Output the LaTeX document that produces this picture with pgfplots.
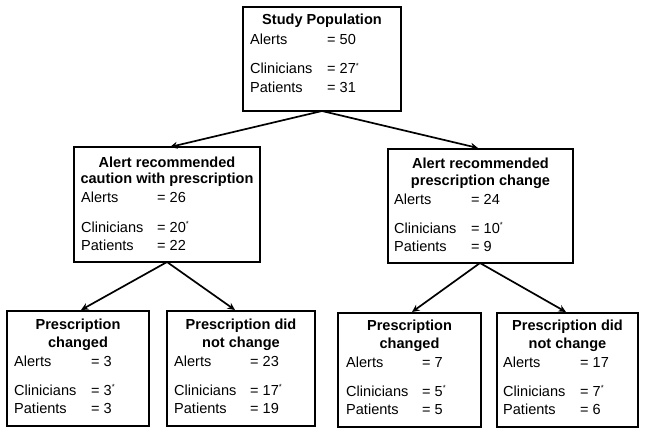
\documentclass[border=0pt]{standalone}
\usepackage{fontspec}
\setmainfont{Liberation Sans}
\usepackage{pgfplots}
\pgfplotsset{compat=1.18}
\usetikzlibrary{arrows.meta}

\newcommand{\flowbox}[4]{\addplot[black, line width=2.1bp] coordinates {(#1,#2) (#3,#2) (#3,#4) (#1,#4) (#1,#2)} -- cycle;}
\newcommand{\flowarrow}[4]{\addplot[black, line width=1.7bp, -{Stealth[length=7.5bp,width=7bp]}] coordinates {(#1,#2) (#3,#4)};}
\newcommand{\tl}[3]{\node[anchor=base west, inner sep=0pt, font=\fontsize{14.6}{16}\selectfont] at (axis cs:#1,#2) {#3};}
\newcommand{\tc}[3]{\node[anchor=base, inner sep=0pt, font=\fontsize{14.6}{16}\selectfont\bfseries] at (axis cs:#1,#2) {#3};}
\newcommand{\st}{\textsuperscript{\fontsize{7.5}{8}\selectfont *}}

\begin{document}
\begin{tikzpicture}
\begin{axis}[scale only axis, width=645bp, height=434bp,
  xmin=0, xmax=645, ymin=0, ymax=434, y dir=reverse,
  hide axis, clip=false]
\path (axis cs:0,0) rectangle (axis cs:645,434);
% boxes
\flowbox{243}{7}{401}{111}
\flowbox{74}{147}{260}{262}
\flowbox{388}{149}{573}{263}
\flowbox{7}{311}{149}{426}
\flowbox{167}{311}{315}{426}
\flowbox{338}{313}{481}{427}
\flowbox{497}{313}{638}{427}
% arrows
\flowarrow{322}{111}{170}{147}
\flowarrow{322}{111}{478}{148}
\flowarrow{167}{262}{81}{310}
\flowarrow{167}{262}{235}{310}
\flowarrow{480}{263}{412}{312}
\flowarrow{480}{263}{566}{312}
% top box
\tc{322}{25}{Study Population}
\tl{250}{45}{Alerts} \tl{327}{45}{= 50}
\tl{250}{74}{Clinicians} \tl{327}{74}{= 27\st}
\tl{250}{92}{Patients} \tl{327}{92}{= 31}
% mid left
\tc{167}{167}{Alert recommended}
\tc{167}{183}{caution with prescription}
\tl{81}{202}{Alerts} \tl{157}{202}{= 26}
\tl{81}{232}{Clinicians} \tl{157}{232}{= 20\st}
\tl{81}{250}{Patients} \tl{157}{250}{= 22}
% mid right
\tc{480.5}{168}{Alert recommended}
\tc{480.5}{185}{prescription change}
\tl{394}{204}{Alerts} \tl{471}{204}{= 24}
\tl{394}{233}{Clinicians} \tl{471}{233}{= 10\st}
\tl{394}{251}{Patients} \tl{471}{251}{= 9}
% bottom 1
\tc{78}{329}{Prescription}
\tc{78}{347}{changed}
\tl{14}{366}{Alerts} \tl{91}{366}{= 3}
\tl{14}{395}{Clinicians} \tl{91}{395}{= 3\st}
\tl{14}{413}{Patients} \tl{91}{413}{= 3}
% bottom 2
\tc{241}{329}{Prescription did}
\tc{241}{347}{not change}
\tl{174}{366}{Alerts} \tl{250}{366}{= 23}
\tl{174}{395}{Clinicians} \tl{250}{395}{= 17\st}
\tl{174}{413}{Patients} \tl{250}{413}{= 19}
% bottom 3
\tc{409.5}{330}{Prescription}
\tc{409.5}{348}{changed}
\tl{346}{367}{Alerts} \tl{422}{367}{= 7}
\tl{346}{396}{Clinicians} \tl{422}{396}{= 5\st}
\tl{346}{414}{Patients} \tl{422}{414}{= 5}
% bottom 4
\tc{567.5}{330}{Prescription did}
\tc{567.5}{348}{not change}
\tl{503}{367}{Alerts} \tl{580}{367}{= 17}
\tl{503}{396}{Clinicians} \tl{580}{396}{= 7\st}
\tl{503}{414}{Patients} \tl{580}{414}{= 6}
\end{axis}
\end{tikzpicture}
\end{document}
